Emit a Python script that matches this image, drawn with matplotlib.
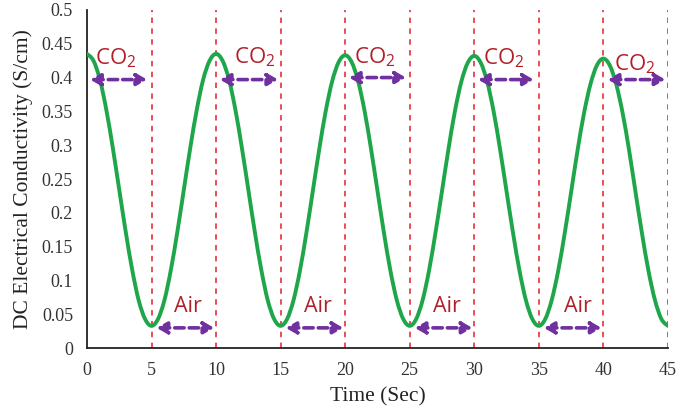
import numpy as np
import matplotlib.pyplot as plt
from matplotlib.path import Path
from matplotlib.patches import PathPatch

# conductivity, every 0.5 s from 0 to 45 s
time = np.arange(0, 45.5, 0.5)
sigma = [
    0.435, 0.425, 0.397, 0.352, 0.296, 0.234, 0.172, 0.116, 0.071, 0.043,
    0.033, 0.043, 0.071, 0.116, 0.172, 0.234, 0.296, 0.352, 0.397, 0.425,
    0.435, 0.425, 0.397, 0.352, 0.296, 0.234, 0.172, 0.116, 0.071, 0.043,
    0.033, 0.043, 0.071, 0.115, 0.171, 0.233, 0.295, 0.351, 0.395, 0.423,
    0.433, 0.423, 0.395, 0.351, 0.295, 0.233, 0.171, 0.115, 0.071, 0.043,
    0.033, 0.043, 0.071, 0.115, 0.171, 0.232, 0.294, 0.350, 0.394, 0.422,
    0.432, 0.422, 0.394, 0.350, 0.294, 0.232, 0.171, 0.115, 0.071, 0.043,
    0.033, 0.043, 0.071, 0.114, 0.169, 0.230, 0.292, 0.347, 0.390, 0.418,
    0.428, 0.418, 0.390, 0.347, 0.292, 0.230, 0.169, 0.114, 0.071, 0.043,
    0.033,
]

switch_times = [5, 10, 15, 20, 25, 30, 35, 40, 45]

# CO2 arrows (start, end, y) and label positions
co2_start = [0.25, 10.3, 20.3, 30.3, 40.35]
co2_end = [4.65, 14.8, 24.7, 34.6, 44.8]
co2_y = [0.397, 0.397, 0.400, 0.397, 0.397]
co2_lx = [2.2, 13.0, 22.3, 32.3, 42.4]
co2_ly = [0.428, 0.430, 0.430, 0.428, 0.420]

air_start = [5.4, 15.4, 25.4, 35.4]
air_end = [9.85, 19.85, 29.85, 39.85]
air_y = [0.03, 0.03, 0.03, 0.03]
air_lx = [7.8, 17.9, 27.9, 38.0]
air_ly = [0.062, 0.062, 0.062, 0.061]

fig = plt.figure(figsize=(6.85, 4.13), dpi=100)
ax = fig.add_axes([0.127, 0.157, 0.848, 0.819])

for t in switch_times:
    ax.axvline(t, color='#e8404a', ls=(0, (3, 3)), lw=1.3, zorder=1)

# smoothed line through the points (like a spreadsheet "smoothed line")
pts = np.column_stack([time, sigma])
verts = [pts[0]]
codes = [Path.MOVETO]
for i in range(len(pts) - 1):
    p0 = pts[max(i - 1, 0)]
    p1 = pts[i]
    p2 = pts[i + 1]
    p3 = pts[min(i + 2, len(pts) - 1)]
    verts += [p1 + (p2 - p0) / 6, p2 - (p3 - p1) / 6, p2]
    codes += [Path.CURVE4] * 3
ax.add_patch(PathPatch(Path(verts, codes), fill=False, edgecolor='#1fa64a',
                       lw=2.8, capstyle='round', zorder=3))

purple = '#7030a0'
red = '#b0202a'
lab_font = dict(family=['Open Sans', 'DejaVu Sans'], color=red,
                ha='center', va='center')

def arrow(x0, x1, y):
    ax.annotate('', xy=(x1, y), xytext=(x0, y),
                arrowprops=dict(arrowstyle='<|-|>,head_length=0.6,head_width=0.35',
                                color=purple, lw=2.6, ls=(0, (2.6, 1.4)),
                                shrinkA=0, shrinkB=0), zorder=4)

for x0, x1, y in zip(co2_start, co2_end, co2_y):
    arrow(x0, x1, y)
for x, y in zip(co2_lx, co2_ly):
    ax.text(x, y, 'CO$_\\mathregular{2}$', fontsize=16, **lab_font)

for x0, x1, y in zip(air_start, air_end, air_y):
    arrow(x0, x1, y)
for x, y in zip(air_lx, air_ly):
    ax.text(x, y, 'Air', fontsize=15.5, **lab_font)

ax.set_xlim(0, 45)
ax.set_ylim(0, 0.5)
ax.set_xticks(range(0, 50, 5))
ax.set_yticks([0, 0.05, 0.1, 0.15, 0.2, 0.25, 0.3, 0.35, 0.4, 0.45, 0.5])
ax.set_yticklabels(['0', '0.05', '0.1', '0.15', '0.2', '0.25', '0.3', '0.35', '0.4', '0.45', '0.5'])
ax.tick_params(length=0, labelsize=13, colors='#333333')
ax.tick_params(axis='y', pad=10)
ax.tick_params(axis='x', pad=10)
for lab in ax.get_xticklabels() + ax.get_yticklabels():
    lab.set_family('Liberation Serif')
for s in ['top', 'right']:
    ax.spines[s].set_visible(False)
for s in ['left', 'bottom']:
    ax.spines[s].set_color('#222222')
    ax.spines[s].set_linewidth(1.3)

ax.set_xlabel('Time (Sec)', family='Liberation Serif', fontsize=15.5, color='#222222', labelpad=6)
ax.set_ylabel('DC Electrical Conductivity (S/cm)', family='Liberation Serif', fontsize=15.5,
              color='#222222', labelpad=6)

fig.savefig('out.png', dpi=100)
